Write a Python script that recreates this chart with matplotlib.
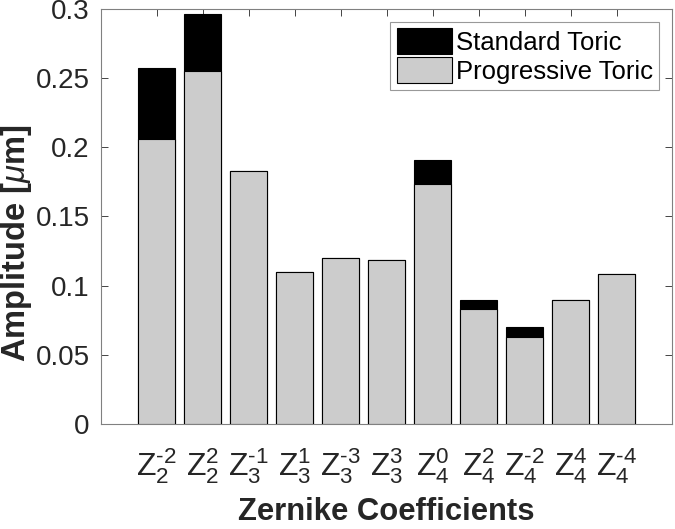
import matplotlib
matplotlib.use("Agg")
import matplotlib.pyplot as plt
import numpy as np

plt.rcParams['font.family'] = ['Liberation Sans', 'DejaVu Sans']
plt.rcParams['mathtext.fontset'] = 'custom'
plt.rcParams['mathtext.rm'] = 'Liberation Sans'
plt.rcParams['mathtext.it'] = 'Liberation Sans:italic'
plt.rcParams['mathtext.bf'] = 'Liberation Sans:bold'

# zernike terms (n, m) and amplitudes in micrometres
orders = [2, 2, 3, 3, 3, 3, 4, 4, 4, 4, 4]
freqs = [-2, 2, -1, 1, -3, 3, 0, 2, -2, 4, -4]
standard_toric = [0.2575, 0.2965, 0.183, 0.1097, 0.1203, 0.1184, 0.1909, 0.0897, 0.0704, 0.0897, 0.1085]
progressive_toric = [0.2063, 0.2555, 0.183, 0.1097, 0.1203, 0.1184, 0.1733, 0.0832, 0.0631, 0.0897, 0.1085]

tick_labels = [r'$\mathrm{Z}_{%d}^{%d}$' % (n, m) for n, m in zip(orders, freqs)]
tick_labels = [t.replace('-', '\u2010') for t in tick_labels]

txt = '#262626'
fig = plt.figure(figsize=(6.75, 5.29), dpi=100)
ax = fig.add_axes([0.1496, 0.1985, 0.8460, 0.7845])

x = np.arange(1, len(orders) + 1)
ax.bar(x, standard_toric, width=0.8, color='black', edgecolor='black', linewidth=0.8,
       label='Standard Toric', zorder=2)
ax.bar(x, progressive_toric, width=0.8, color='#cccccc', edgecolor='black', linewidth=0.8,
       label='Progressive Toric', zorder=3)

ax.set_xlim(-0.21, 12.2)
ax.set_ylim(0, 0.3)
ax.set_yticks([0, 0.05, 0.1, 0.15, 0.2, 0.25, 0.3])
ax.set_yticklabels(['0', '0.05', '0.1', '0.15', '0.2', '0.25', '0.3'])
ax.set_xticks(x)
ax.set_xticklabels(tick_labels)

ax.tick_params(direction='in', top=True, right=True, length=5, width=0.6,
               colors=txt)
ax.tick_params(axis='y', labelsize=20, pad=8)
ax.tick_params(axis='x', labelsize=23, pad=16)
for s in ax.spines.values():
    s.set_color('#808080')
    s.set_linewidth(0.8)

ax.set_xlabel('Zernike Coefficients', fontsize=22.3, fontweight='bold', color=txt, labelpad=8)
ax.set_ylabel(r'Amplitude [$\mu$m]', fontsize=23.5, fontweight='bold', color=txt)
ax.yaxis.set_label_coords(-0.118, 0.435)

leg = ax.legend(loc='upper right', fontsize=18.5, frameon=True, fancybox=False,
                handlelength=2.15, handleheight=1.15, handletextpad=0.15,
                borderpad=0.25, labelspacing=0.1, borderaxespad=0.5)
leg.get_frame().set_edgecolor('#808080')
leg.get_frame().set_linewidth(0.8)

fig.savefig('out.png', dpi=100)
